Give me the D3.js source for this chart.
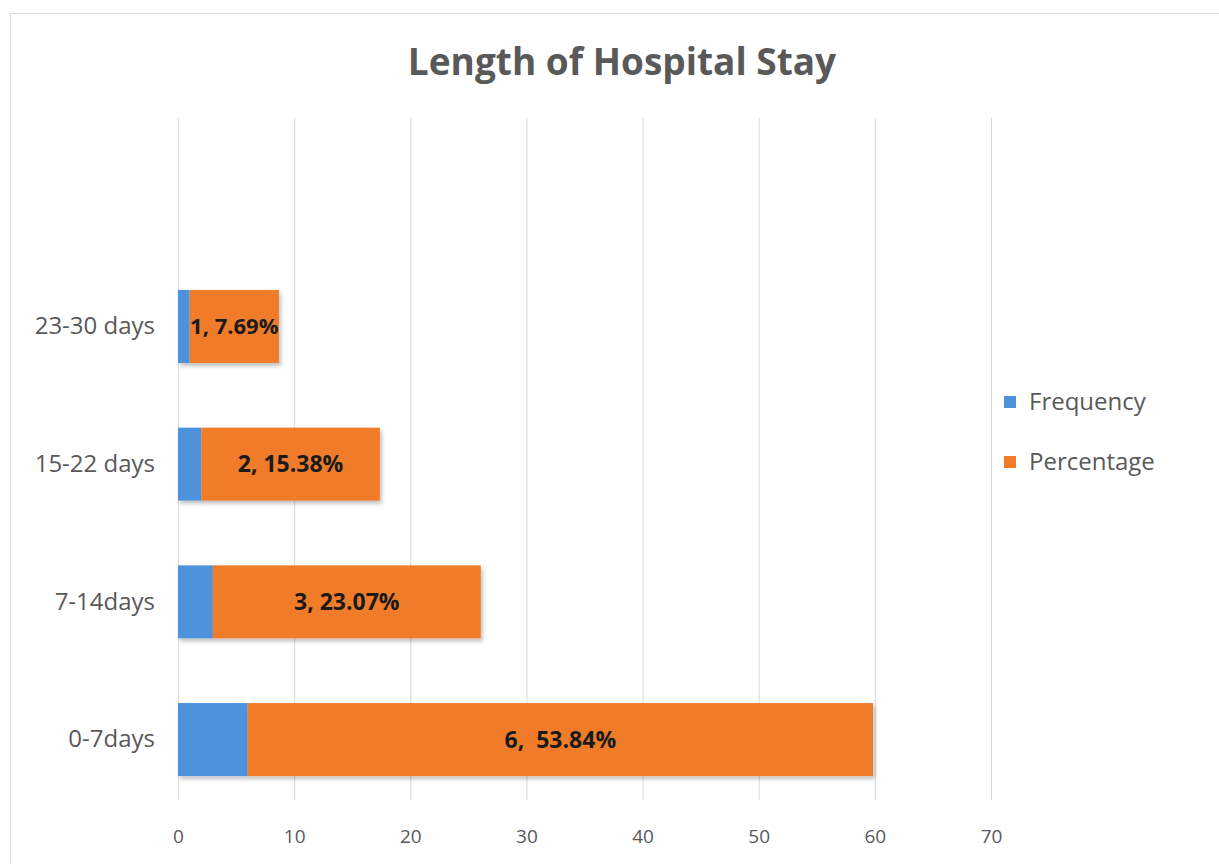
<!DOCTYPE html>
<html>
<head>
<meta charset="utf-8">
<script src="https://cdn.jsdelivr.net/npm/d3@7"></script>
<style>
  body { margin: 0; background: #fff; }
  svg { display: block; font-family: "Open Sans", "Noto Sans", sans-serif; }
</style>
</head>
<body>
<div class="chart"></div>
<script>
// data
var categories = ["23-30 days", "15-22 days", "7-14days", "0-7days"];
var frequency = [1, 2, 3, 6];
var percentage = [7.69, 15.38, 23.07, 53.84];
var barLabels = ["1, 7.69%", "2, 15.38%", "3, 23.07%", "6,  53.84%"];
var xTicks = [0, 10, 20, 30, 40, 50, 60, 70];
var seriesNames = ["Frequency", "Percentage"];
var seriesColors = ["#4d93dc", "#f07b2b"];

var width = 1219, height = 864;

var svg = d3.select(".chart")
    .append("svg")
    .attr("width", width)
    .attr("height", height);

// drop shadow for the bars
var defs = svg.append("defs");
var f = defs.append("filter").attr("id", "shadow")
    .attr("x", "-5%").attr("y", "-10%").attr("width", "115%").attr("height", "130%");
f.append("feDropShadow")
    .attr("dx", 2).attr("dy", 3).attr("stdDeviation", 2)
    .attr("flood-color", "#000").attr("flood-opacity", 0.25);

// chart border
svg.append("rect")
    .attr("x", 10.5).attr("y", 13.5)
    .attr("width", 1220).attr("height", 870)
    .attr("fill", "#fff")
    .attr("stroke", "#d9d9d9");

var x = d3.scaleLinear().domain([0, 70]).range([178, 991]);
var y = d3.scaleBand()
    .domain(categories)
    .range([257.6, 808.4])
    .paddingInner(0.47)
    .paddingOuter(0.235);

// gridlines
svg.append("g").attr("class", "grid")
    .selectAll("line")
    .data(xTicks)
    .join("line")
    .attr("x1", d => x(d) + 0.5).attr("x2", d => x(d) + 0.5)
    .attr("y1", 118).attr("y2", 800)
    .attr("stroke", "#d9d9d9")
    .attr("stroke-width", 1);

// x axis labels
var xAxis = d3.axisBottom(x).tickValues(xTicks).tickSize(0).tickPadding(0);
var gx = svg.append("g")
    .attr("transform", "translate(0,829)")
    .call(xAxis);
gx.select(".domain").remove();
gx.selectAll("text")
    .attr("font-family", "'Open Sans', sans-serif")
    .attr("font-size", 19)
    .attr("fill", "#595959");

// y axis labels
var yAxis = d3.axisLeft(y).tickSize(0).tickPadding(0);
var gy = svg.append("g")
    .attr("transform", "translate(155,0)")
    .call(yAxis);
gy.select(".domain").remove();
gy.selectAll("text")
    .attr("font-family", "'Open Sans', sans-serif")
    .attr("font-size", 24)
    .attr("fill", "#595959");

// stacked bars
var rows = categories.map(function (c, i) {
    return { cat: c, freq: frequency[i], pct: percentage[i], label: barLabels[i] };
});

var bars = svg.append("g").attr("class", "bars");
var rowG = bars.selectAll("g")
    .data(rows)
    .join("g")
    .attr("filter", "url(#shadow)");

rowG.append("rect")
    .attr("x", d => x(0))
    .attr("y", d => y(d.cat))
    .attr("width", d => x(d.freq) - x(0))
    .attr("height", y.bandwidth())
    .attr("fill", seriesColors[0]);

rowG.append("rect")
    .attr("x", d => x(d.freq))
    .attr("y", d => y(d.cat))
    .attr("width", d => x(d.freq + d.pct) - x(d.freq))
    .attr("height", y.bandwidth())
    .attr("fill", seriesColors[1]);

// data labels
svg.append("g").selectAll("text")
    .data(rows)
    .join("text")
    .attr("x", d => (x(d.freq) + x(d.freq + d.pct)) / 2)
    .attr("y", d => y(d.cat) + y.bandwidth() / 2)
    .attr("dy", "0.36em")
    .attr("text-anchor", "middle")
    .attr("font-size", d => d.freq === 1 ? 22 : 23)
    .attr("font-weight", "bold")
    .attr("fill", "#1a1a1a")
    .style("white-space", "pre")
    .text(d => d.label);

// title
svg.append("text")
    .attr("x", 622).attr("y", 75)
    .attr("text-anchor", "middle")
    .attr("font-size", 37)
    .attr("font-weight", "bold")
    .attr("fill", "#595959")
    .text("Length of Hospital Stay");

// legend
var legend = svg.append("g").attr("transform", "translate(1004,0)");
var legItems = legend.selectAll("g")
    .data(seriesNames)
    .join("g")
    .attr("transform", (d, i) => "translate(0," + (402 + i * 60) + ")");
legItems.append("rect")
    .attr("x", 0).attr("y", -6)
    .attr("width", 12).attr("height", 12)
    .attr("fill", (d, i) => seriesColors[i]);
legItems.append("text")
    .attr("x", 25).attr("y", 0)
    .attr("dy", "0.35em")
    .attr("font-size", 24)
    .attr("fill", "#595959")
    .text(d => d);
</script>
</body>
</html>
